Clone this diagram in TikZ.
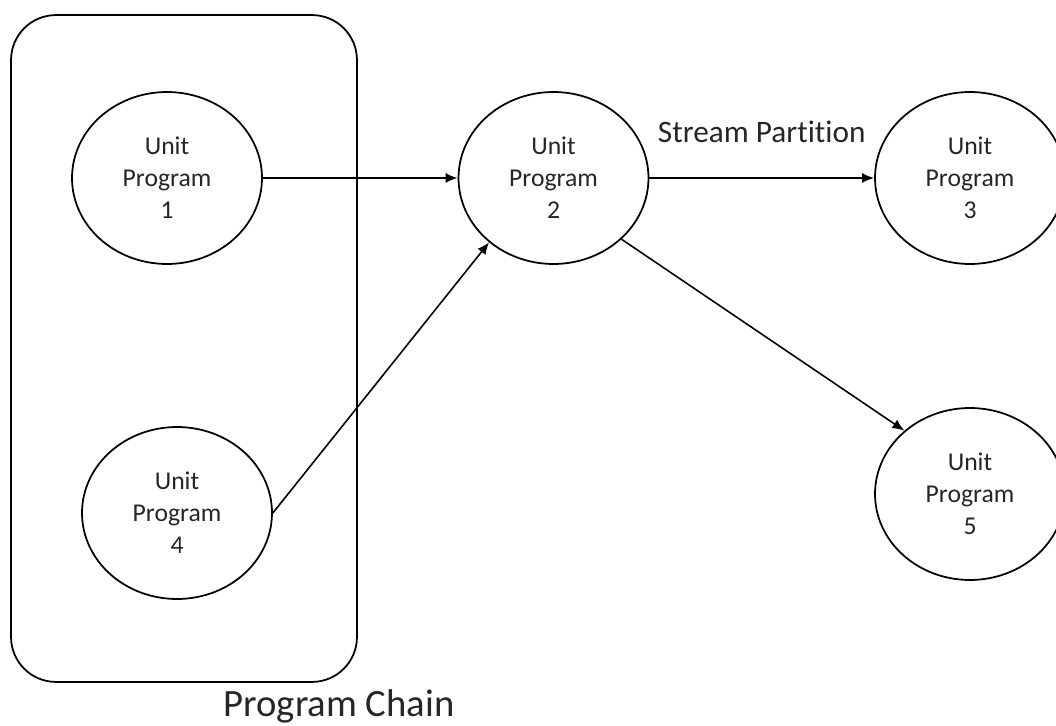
\documentclass[tikz,border=0pt]{standalone}
\usepackage{fontspec}
\setmainfont[Ligatures=NoCommon]{Carlito}
\usepackage{tikz}
\usetikzlibrary{positioning,shapes.geometric,arrows.meta}
\tikzstyle{unit-program} = [ellipse, minimum width=3.8cm, minimum height=3.44cm, inner sep=0pt, align=center, draw=black, line width=1pt, text=black!85, font=\fontsize{14.6}{18.2}\selectfont]
\tikzstyle{program-chain} = [rectangle, rounded corners=0.9cm, minimum width=6.92cm, minimum height=13.34cm, draw=black, line width=1pt]
\tikzstyle{arrow} = [line width=0.9pt,-{Latex[length=2.4mm,width=2mm]}]

\begin{document}
\begin{tikzpicture}[x=0.02cm,y=-0.02cm]
        \useasboundingbox (0,0) rectangle (1056,726);
        \node (chain) [program-chain] at (184,348.5) {};
        \node (unit-program-1) [unit-program] at (167,178) {Unit\\Program\\1};
        \node (unit-program-4) [unit-program] at (177,513) {Unit\\Program\\4};
        \node (unit-program-2) [unit-program] at (553.5,178) {Unit\\Program\\2};
        \node (unit-program-3) [unit-program] at (970,178) {Unit\\Program\\3};
        \node (unit-program-5) [unit-program] at (970,494) {Unit\\Program\\5};
        \node (chain-label) [anchor=base, text=black!85, font=\fontsize{22}{26}\selectfont] at (339,716) {Program Chain};

        \draw [arrow] (unit-program-1) -- (unit-program-2);
        \draw [arrow] (unit-program-4.east) -- (unit-program-2.225);
        \draw [arrow] (unit-program-2) -- node[above=0.68cm, inner sep=0pt, text=black!85, font=\fontsize{17.8}{21}\selectfont] {Stream Partition}(unit-program-3);
        \draw [arrow] (unit-program-2.-42) -- (unit-program-5.136);
    \end{tikzpicture}
\end{document}
